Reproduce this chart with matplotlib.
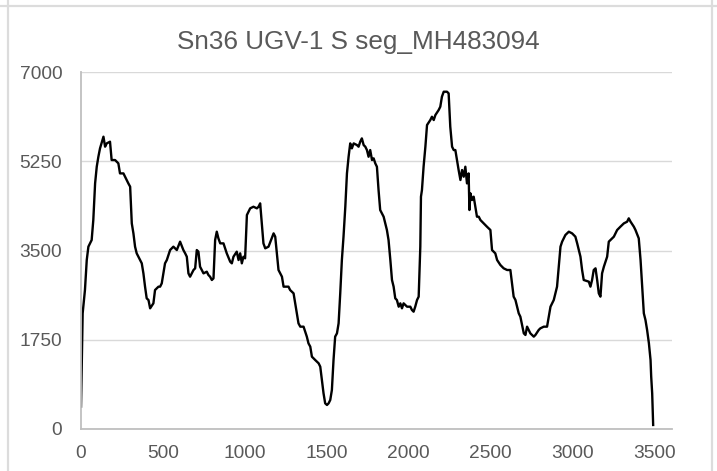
import matplotlib
matplotlib.use('Agg')
import matplotlib.pyplot as plt
from matplotlib.lines import Line2D

plt.rcParams['font.family'] = ['Liberation Sans', 'DejaVu Sans']

title = 'Sn36 UGV-1 S seg_MH483094'

# position along the segment and the coverage value there
position = [
    0, 4, 10, 24, 35, 45, 65, 75, 86, 96, 106, 116, 137, 147, 157, 177, 187, 208, 228, 238,
    259, 279, 289, 300, 310, 320, 330, 340, 361, 371, 381, 391, 401, 412, 422, 442, 452, 473, 483, 493,
    513, 524, 544, 564, 585, 605, 625, 636, 646, 656, 666, 687, 697, 707, 717, 727, 748, 768, 778, 788,
    799, 809, 819, 829, 839, 850, 870, 890, 911, 921, 931, 951, 962, 972, 982, 992, 1002, 1013, 1033, 1053,
    1074, 1084, 1094, 1104, 1114, 1125, 1145, 1176, 1186, 1206, 1227, 1237, 1267, 1277, 1298, 1308, 1318, 1328, 1339, 1359,
    1379, 1389, 1400, 1410, 1430, 1451, 1461, 1471, 1481, 1491, 1502, 1512, 1522, 1532, 1542, 1552, 1563, 1573, 1583, 1593,
    1603, 1614, 1624, 1634, 1644, 1654, 1665, 1685, 1695, 1705, 1715, 1726, 1736, 1746, 1756, 1766, 1777, 1787, 1797, 1807,
    1817, 1827, 1848, 1868, 1878, 1889, 1899, 1909, 1919, 1929, 1940, 1950, 1960, 1970, 1991, 2011, 2021, 2031, 2041, 2052,
    2062, 2072, 2076, 2082, 2092, 2103, 2113, 2133, 2143, 2154, 2164, 2184, 2194, 2204, 2215, 2235, 2245, 2255, 2266, 2276,
    2286, 2296, 2306, 2317, 2327, 2337, 2347, 2357, 2367, 2372, 2378, 2388, 2398, 2408, 2418, 2429, 2439, 2459, 2479, 2500,
    2510, 2530, 2541, 2561, 2581, 2602, 2622, 2642, 2653, 2663, 2673, 2683, 2704, 2714, 2724, 2744, 2765, 2775, 2795, 2805,
    2826, 2846, 2867, 2887, 2897, 2907, 2928, 2938, 2958, 2979, 2999, 3019, 3030, 3050, 3060, 3070, 3101, 3111, 3121, 3131,
    3142, 3152, 3162, 3172, 3182, 3193, 3203, 3213, 3223, 3233, 3254, 3264, 3274, 3294, 3315, 3335, 3345, 3356, 3376, 3386,
    3406, 3417, 3427, 3437, 3447, 3457, 3468, 3478, 3482, 3488, 3494,
]
coverage = [
    440, 1158, 2270, 2727, 3316, 3578, 3708, 4101, 4820, 5147, 5343, 5507, 5736, 5540, 5605, 5638, 5278, 5278, 5213, 5016,
    5016, 4886, 4820, 4755, 4035, 3839, 3578, 3447, 3316, 3251, 3054, 2793, 2564, 2531, 2368, 2466, 2727, 2793, 2793, 2858,
    3251, 3316, 3512, 3578, 3512, 3676, 3512, 3447, 3381, 3054, 2989, 3120, 3153, 3512, 3480, 3185, 3054, 3087, 3022, 2989,
    2924, 2956, 3708, 3872, 3741, 3643, 3643, 3447, 3283, 3251, 3381, 3480, 3316, 3447, 3251, 3381, 3349, 4199, 4330, 4362,
    4330, 4362, 4428, 4035, 3643, 3545, 3578, 3839, 3774, 3120, 2989, 2793, 2793, 2727, 2662, 2466, 2270, 2073, 2008, 2008,
    1812, 1681, 1616, 1419, 1354, 1289, 1223, 962, 700, 504, 471, 504, 569, 765, 1354, 1812, 1877, 2073, 2662, 3316,
    3774, 4362, 5016, 5343, 5605, 5507, 5605, 5572, 5540, 5638, 5703, 5572, 5540, 5474, 5343, 5474, 5278, 5311, 5213, 5147,
    4689, 4297, 4166, 3905, 3708, 3316, 2924, 2793, 2564, 2531, 2400, 2466, 2368, 2466, 2400, 2400, 2335, 2302, 2400, 2531,
    2597, 3578, 4559, 4689, 5147, 5540, 5965, 6063, 6128, 6063, 6161, 6259, 6324, 6521, 6619, 6619, 6586, 5932, 5540, 5474,
    5474, 5278, 5082, 4886, 5082, 4951, 5147, 4820, 5016, 4297, 4624, 4493, 4559, 4362, 4166, 4166, 4101, 4035, 3970, 3905,
    3512, 3447, 3316, 3218, 3153, 3120, 3120, 2597, 2531, 2400, 2270, 2204, 1877, 1845, 2008, 1877, 1812, 1845, 1943, 1975,
    2008, 2008, 2400, 2531, 2662, 2793, 3578, 3676, 3807, 3872, 3839, 3774, 3643, 3381, 3120, 2924, 2891, 2793, 2924, 3120,
    3153, 2924, 2662, 2597, 3054, 3185, 3283, 3381, 3676, 3708, 3774, 3839, 3905, 3970, 4035, 4068, 4134, 4068, 3970, 3905,
    3741, 3316, 2793, 2270, 2139, 1943, 1681, 1354, 1027, 700, 79,
]

y_ticks = [0, 1750, 3500, 5250, 7000]
x_ticks = [0, 500, 1000, 1500, 2000, 2500, 3000, 3500]

fig = plt.figure(figsize=(7.17, 4.71), dpi=100)
ax = fig.add_axes([0.113, 0.0892, 0.824, 0.7573])

ax.plot(position, coverage, color='black', linewidth=1.7, solid_joinstyle='round')

ax.set_xlim(0, 3608)
ax.set_ylim(0, 7000)
ax.set_xticks(x_ticks)
ax.set_yticks(y_ticks)
ax.tick_params(axis='both', length=0, labelsize=13.8, labelcolor='#595959')
ax.tick_params(axis='y', pad=13.5)
ax.tick_params(axis='x', pad=11.5)

ax.grid(axis='y', color='#d9d9d9', linewidth=1.0)
ax.set_axisbelow(True)
for side in ['top', 'right']:
    ax.spines[side].set_visible(False)
ax.spines['bottom'].set_color('#bfbfbf')
ax.spines['bottom'].set_linewidth(1.3)
ax.spines['left'].set_color('#bfbfbf')
ax.spines['left'].set_linewidth(1.3)

fig.text(0.5, 0.91, title, ha='center', va='center', fontsize=18.8, color='#595959')

# light sheet borders round the chart: top edge and the two sides
top = 1 - 6 / 471
fig.lines.append(Line2D([0, 1], [top, top], transform=fig.transFigure, color='#dcdcdc', linewidth=1.6))
for xp in [7.5, 711.5]:
    fig.lines.append(Line2D([xp / 717, xp / 717], [0, 1], transform=fig.transFigure,
                            color='#dcdcdc', linewidth=1.6))

fig.savefig('out.png', dpi=100)
